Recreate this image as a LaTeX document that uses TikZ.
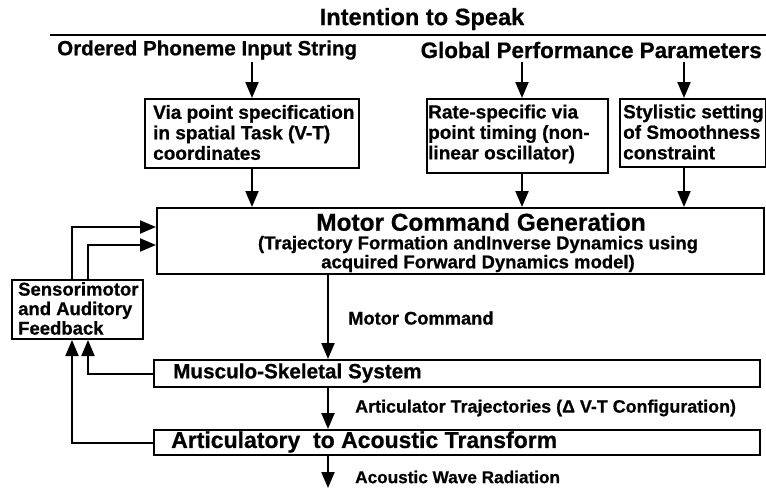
\documentclass[tikz,border=0pt]{standalone}
\usepackage{fontspec}
\setmainfont{Liberation Sans}[BoldFeatures={FakeBold=0.7}]
\usetikzlibrary{arrows.meta}
\newcommand{\fsz}[2]{\fontsize{#1}{#2}\selectfont\bfseries}
\begin{document}
\begin{tikzpicture}[x=1pt,y=-1pt,
  lw/.style={line width=2pt},
  arr/.style={line width=2pt,-{Triangle[length=16pt,width=13pt]}},
  box/.style={draw,line width=2pt,anchor=north west,inner sep=0pt},
  txt/.style={inner sep=0pt},
  btxt/.style={inner sep=0pt,anchor=west,align=left,font=\fsz{19}{20.5}},
]
\useasboundingbox[fill=white] (0,0) rectangle (766,488);

% title and rule
\node[txt,font=\fsz{23.6}{24}] (title) at (422,19) {Intention to Speak};
\coordinate (L1) at (50,35);
\coordinate (L2) at (766,35);
\draw[lw] (L1) -- (L2);

% headers
\node[txt,anchor=west,font=\fsz{20.6}{21}] (ord) at (57,50) {Ordered Phoneme Input String};
\node[txt,anchor=east,font=\fsz{22.4}{23}] (glob) at (762,50) {Global Performance Parameters};

% upper boxes
\node[box,minimum width=214pt,minimum height=69pt] (b1) at (144,98) {};
\node[btxt] (b1t) at (153,132.5) {Via point specification\\in spatial Task (V-T)\\coordinates};
\node[box,minimum width=181pt,minimum height=74pt] (b2) at (426,98) {};
\node[btxt] (b2t) at (428,134) {Rate-specific via\\point timing (non-\\linear oscillator)};
\node[box,minimum width=146pt,minimum height=68pt] (b3) at (619,98) {};
\node[btxt] (b3t) at (623,132) {Stylistic setting\\of Smoothness\\constraint};

% motor command box
\node[box,minimum width=607pt,minimum height=66pt] (motor) at (156,207) {};
\node[txt,font=\fsz{24.4}{25}] (mtitle) at (481,222) {Motor Command Generation};
\node[txt,align=center,font=\fsz{18.5}{19}] (msub) at (478,254)
  {(Trajectory Formation andInverse Dynamics using\\acquired Forward Dynamics model)};

% sensorimotor box
\node[box,minimum width=131pt,minimum height=59pt] (sens) at (11,279) {};
\node[btxt,font=\fsz{18.5}{19.5}] (senst) at (18,308.5) {Sensorimotor\\and Auditory\\Feedback};

% lower boxes
\node[box,minimum width=606pt,minimum height=27pt] (musc) at (153,359) {};
\node[txt,anchor=west,font=\fsz{20.7}{21}] (musct) at (173,373) {Musculo-Skeletal System};
\node[box,minimum width=606pt,minimum height=25pt] (art) at (153,429) {};
\node[txt,anchor=west,font=\fsz{23}{23}] (artt) at (171,442) {Articulatory~~to Acoustic Transform};

% labels
\node[txt,anchor=west,font=\fsz{18.3}{19}] (mclab) at (348,318) {Motor Command};
\node[txt,anchor=west,font=\fsz{17.9}{18}] (atlab) at (355,408) {Articulator Trajectories (Δ V-T Configuration)};
\node[txt,anchor=west,font=\fsz{17.2}{18}] (awlab) at (355,477) {Acoustic Wave Radiation};

% helper coordinates
\coordinate (a1) at (252,62);
\coordinate (a2) at (522,62);
\coordinate (a3) at (684,62);
\coordinate (fx1) at (72,0);
\coordinate (fx2) at (88,0);
\coordinate (fy1) at (0,227);
\coordinate (fy2) at (0,245);
\coordinate (cx) at (328,0);
\coordinate (bottom) at (328,488);

% arrows from headers
\draw[arr] (a1) -- (b1.north -| a1);
\draw[arr] (a2) -- (b2.north -| a2);
\draw[arr] (a3) -- (b3.north -| a3);

% arrows into motor box
\draw[arr] (b1.south -| a1) -- (motor.north -| a1);
\draw[arr] (b2.south -| a2) -- (motor.north -| a2);
\draw[arr] (b3.south -| a3) -- (motor.north -| a3);

% feedback
\draw[arr] (sens.north -| fx1) |- (motor.west |- fy1);
\draw[arr] (sens.north -| fx2) |- (motor.west |- fy2);
\draw[arr] (musc.west) -| (sens.south -| fx2);
\draw[arr] (art.west) -| (sens.south -| fx1);

% main chain
\draw[arr] (motor.south -| cx) -- (musc.north -| cx);
\draw[arr] (musc.south -| cx) -- (art.north -| cx);
\draw[arr] (art.south -| cx) -- (bottom);
\end{tikzpicture}
\end{document}
